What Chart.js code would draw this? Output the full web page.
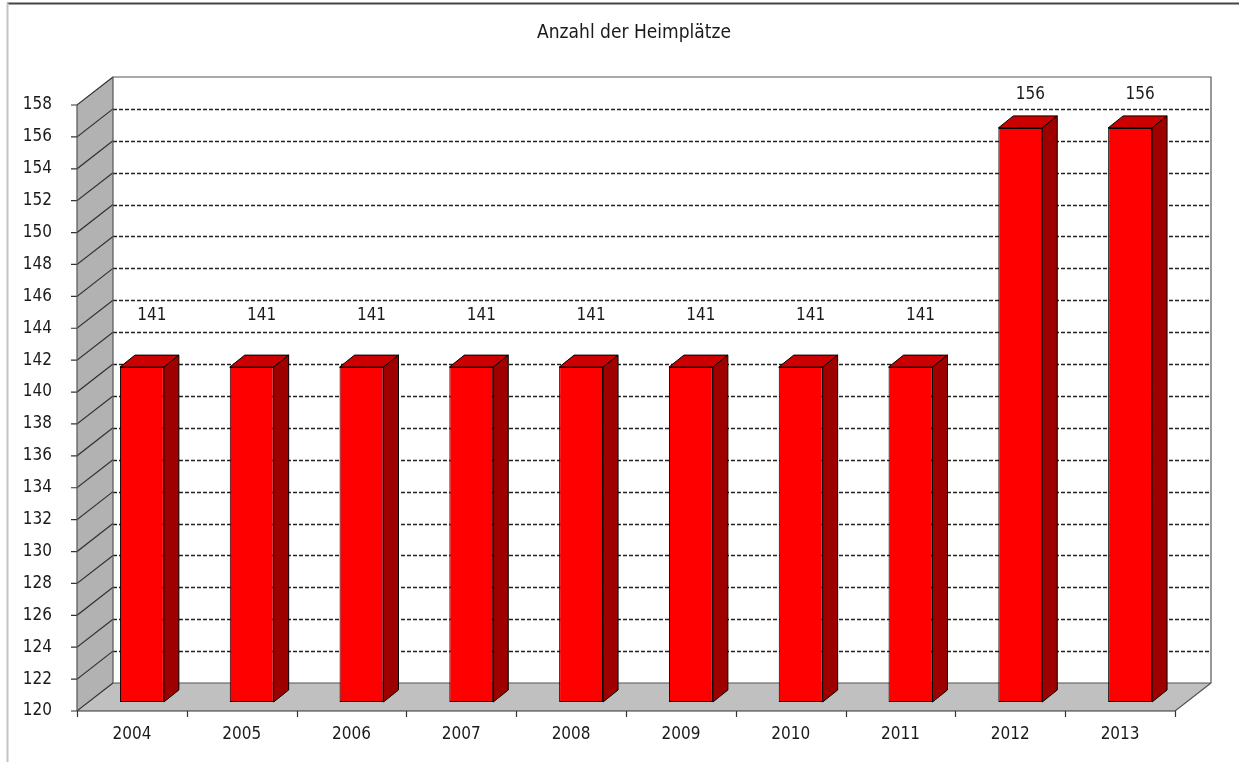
<!DOCTYPE html>
<html>
<head>
<meta charset="utf-8">
<script src="https://cdn.jsdelivr.net/npm/chart.js@4"></script>
<style>
  body { margin: 0; background: #fff; }
  canvas { display: block; }
</style>
</head>
<body>
<canvas id="chart" width="1239" height="762"></canvas>
<script>
// data
var years = ['2004', '2005', '2006', '2007', '2008', '2009', '2010', '2011', '2012', '2013'];
var heimplaetze = [141, 141, 141, 141, 141, 141, 141, 141, 156, 156];
var title = 'Anzahl der Heimplätze';
var yMin = 120, yMax = 158, yStep = 2;

var FONT = "'DejaVu Sans Condensed', 'DejaVu Sans', sans-serif";
var DX = 36, DY = -28;       // depth of the chart box
var BX = 10, BY = -9;        // bars sit a bit behind the front plane
var SX = 15, SY = -12;       // depth of a bar

var box3d = {
  id: 'box3d',
  beforeDraw: function (chart) {
    var c = chart.ctx;
    c.save();
    // frame of the original picture
    c.strokeStyle = '#444'; c.lineWidth = 2;
    c.beginPath(); c.moveTo(7, 3.5); c.lineTo(1239, 3.5); c.stroke();
    c.strokeStyle = '#c4c4c4';
    c.beginPath(); c.moveTo(7.5, 3); c.lineTo(7.5, 762); c.stroke();
    // title
    c.fillStyle = '#1a1a1a';
    c.font = '19px ' + FONT;
    c.textAlign = 'center'; c.textBaseline = 'middle';
    c.fillText(title, 634, 33);
    c.restore();
  },
  beforeDatasetsDraw: function (chart) {
    var c = chart.ctx, a = chart.chartArea, y = chart.scales.y;
    var top = y.getPixelForValue(yMax), bot = y.getPixelForValue(yMin);
    c.save();
    // left wall
    c.fillStyle = '#b2b2b2';
    c.beginPath();
    c.moveTo(a.left, bot); c.lineTo(a.left, top);
    c.lineTo(a.left + DX, top + DY); c.lineTo(a.left + DX, bot + DY);
    c.closePath(); c.fill();
    // floor
    c.fillStyle = '#c0c0c0';
    c.beginPath();
    c.moveTo(a.left, bot); c.lineTo(a.right, bot);
    c.lineTo(a.right + DX, bot + DY); c.lineTo(a.left + DX, bot + DY);
    c.closePath(); c.fill();
    // back wall gridlines
    c.strokeStyle = '#222'; c.lineWidth = 1.5; c.setLineDash([4, 2]);
    for (var v = yMin + yStep; v < yMax; v += yStep) {
      var py = Math.round(y.getPixelForValue(v) + DY) + 0.5;
      c.beginPath(); c.moveTo(a.left + DX, py); c.lineTo(a.right + DX, py); c.stroke();
    }
    c.setLineDash([]);
    // diagonals on the left wall + ticks
    c.strokeStyle = '#333'; c.lineWidth = 1.2;
    for (var v2 = yMin; v2 <= yMax; v2 += yStep) {
      var p = y.getPixelForValue(v2);
      c.beginPath(); c.moveTo(a.left - 6, p); c.lineTo(a.left, p);
      c.lineTo(a.left + DX, p + DY); c.stroke();
    }
    // box edges
    c.strokeStyle = '#555'; c.lineWidth = 1.2;
    c.beginPath();
    c.moveTo(a.left, bot); c.lineTo(a.left, top);
    c.moveTo(a.left + DX, bot + DY); c.lineTo(a.left + DX, top + DY);
    c.lineTo(a.right + DX, top + DY); c.lineTo(a.right + DX, bot + DY);
    c.lineTo(a.left + DX, bot + DY);
    c.moveTo(a.right + DX, bot + DY); c.lineTo(a.right, bot);
    c.stroke();
    c.strokeStyle = '#333';
    c.beginPath(); c.moveTo(a.left, bot); c.lineTo(a.right, bot); c.stroke();
    // x ticks at category borders
    var n = years.length, w = (a.right - a.left) / n;
    for (var i = 0; i <= n; i++) {
      var px = Math.round(a.left + i * w) + 0.5;
      c.beginPath(); c.moveTo(px, bot); c.lineTo(px, bot + 6); c.stroke();
    }
    c.restore();
    c.save();
    c.translate(BX, BY);
  },
  afterDatasetsDraw: function (chart) {
    var c = chart.ctx;
    c.restore();
    c.save();
    var meta = chart.getDatasetMeta(0);
    meta.data.forEach(function (bar, i) {
      var L = bar.x - bar.width / 2 + BX, R = bar.x + bar.width / 2 + BX;
      var T = bar.y + BY, B = bar.base + BY;
      c.strokeStyle = '#000'; c.lineWidth = 1;
      c.fillStyle = '#cc0000';
      c.beginPath();
      c.moveTo(L, T); c.lineTo(L + SX, T + SY); c.lineTo(R + SX, T + SY); c.lineTo(R, T);
      c.closePath(); c.fill(); c.stroke();
      c.fillStyle = '#9e0000';
      c.beginPath();
      c.moveTo(R, T); c.lineTo(R + SX, T + SY); c.lineTo(R + SX, B + SY); c.lineTo(R, B);
      c.closePath(); c.fill(); c.stroke();
      // value label
      c.fillStyle = '#1a1a1a';
      c.font = '17px ' + FONT;
      c.textAlign = 'center'; c.textBaseline = 'middle';
      c.fillText(heimplaetze[i], (L + R) / 2 + 10, Math.max(T - 52, 95));
    });
    c.restore();
  }
};

var ctx = document.getElementById('chart').getContext('2d');
var chart = new Chart(ctx, {
  type: 'bar',
  data: {
    labels: years,
    datasets: [{
      data: heimplaetze,
      base: yMin,
      backgroundColor: '#ff0000',
      borderColor: '#000',
      borderWidth: 1,
      borderSkipped: false,
      barPercentage: 0.4,
      categoryPercentage: 1
    }]
  },
  options: {
    responsive: false,
    animation: false,
    layout: { padding: { top: 105, right: 64, left: 0, bottom: 0 } },
    plugins: {
      legend: { display: false },
      title: { display: false },
      tooltip: { enabled: false }
    },
    scales: {
      x: {
        grid: { display: false },
        border: { display: false },
        ticks: { font: { family: FONT, size: 17 }, color: '#1a1a1a', padding: 5 },
        afterFit: function (s) { s.height = 51; }
      },
      y: {
        min: yMin, max: yMax,
        grid: { display: false },
        border: { display: false },
        ticks: { stepSize: yStep, font: { family: FONT, size: 17 }, color: '#1a1a1a', padding: 17 },
        afterFit: function (s) { s.width = 77; }
      }
    }
  },
  plugins: [box3d]
});
</script>
</body>
</html>
